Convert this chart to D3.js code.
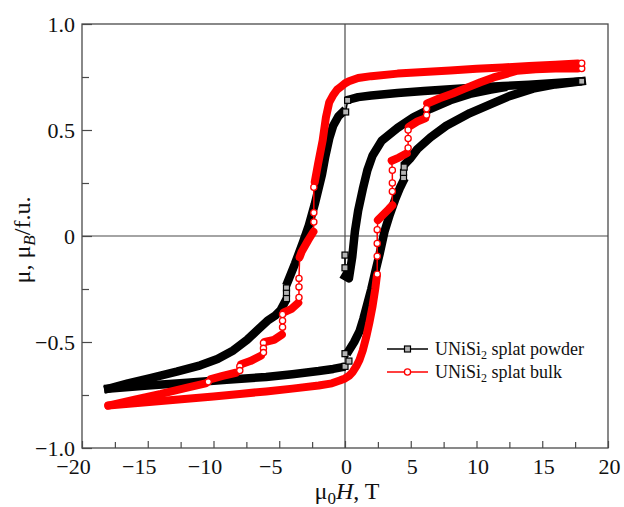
<!DOCTYPE html>
<html>
<head>
<meta charset="utf-8">
<script src="https://cdn.jsdelivr.net/npm/d3@7"></script>
<style>
	body { margin: 0; background: #fff; }
	svg { display: block; font-family: 'Liberation Serif', 'Times New Roman', serif; }
</style>
</head>
<body>
<div id="chart"></div>
<script>

// === Data === //
// [field (T), moment (μB/f.u.)] read off the loops; a third value of 1 marks
// a lone measured point (shown as an open marker, not part of the dense band)

var xTickValues = [-20, -15, -10, -5, 0, 5, 10, 15, 20];
var xTickLabels = ['\u221220', '\u221215', '\u221210', '\u22125', '0', '5', '10', '15', '20'];
var xMinorValues = [-17.5, -12.5, -7.5, -2.5, 2.5, 7.5, 12.5, 17.5];

var yTickValues = [-1, -0.5, 0, 0.5, 1];
var yTickLabels = ['\u22121.0', '\u22120.5', '0', '0.5', '1.0'];
var yMinorValues = [-0.75, -0.25, 0.25, 0.75];

var seriesNames = ['splat powder', 'splat bulk'];

var powderDown = [
	[18, 0.73, 1], [17.7, 0.729], [16, 0.722], [14, 0.714], [12, 0.707], [10, 0.70], [8, 0.692], [6, 0.684],
	[4, 0.675], [2, 0.663], [1, 0.655], [0.4, 0.645],
	[0.2, 0.64, 1], [0.05, 0.585, 1],
	[-0.2, 0.583], [-0.5, 0.565], [-0.9, 0.52], [-1.2, 0.46], [-1.5, 0.375], [-1.75, 0.29], [-2.3, 0.15],
	[-2.75, 0.05], [-3.2, -0.03], [-3.8, -0.13], [-4.35, -0.215],
	[-4.45, -0.245, 1], [-4.45, -0.27, 1], [-4.45, -0.295, 1],
	[-4.6, -0.315], [-4.9, -0.35], [-5.3, -0.375], [-5.9, -0.40], [-6.6, -0.44], [-7.45, -0.49], [-8.5, -0.54],
	[-9.7, -0.58], [-11, -0.61], [-12.8, -0.64], [-14.8, -0.67], [-16.5, -0.695], [-18, -0.72]
];

var powderVirgin = [
	[0, -0.09, 1], [0, -0.15, 1],
	[0.02, -0.19], [0.3, -0.2], [0.55, -0.1], [0.75, 0.02], [1.0, 0.12], [1.35, 0.22], [1.7, 0.31], [2.1, 0.38],
	[2.8, 0.45], [4.0, 0.51], [5.2, 0.56], [6.5, 0.60], [8, 0.64], [9.5, 0.67], [11, 0.69], [12, 0.70]
];

var powderUp = [
	[-18, -0.72], [-15, -0.705], [-12, -0.692], [-9, -0.678], [-6, -0.665], [-4, -0.652], [-2, -0.637],
	[-0.9, -0.627], [-0.3, -0.62],
	[0, -0.615, 1], [0.3, -0.59, 1], [0, -0.555, 1],
	[0.3, -0.54], [0.7, -0.5], [1.1, -0.45], [1.4, -0.39], [1.7, -0.32], [2.0, -0.25], [2.3, -0.17], [2.65, -0.08],
	[3.0, 0.02], [3.4, 0.1], [3.8, 0.17], [4.2, 0.23], [4.4, 0.255],
	[4.45, 0.275, 1], [4.45, 0.3, 1], [4.5, 0.325, 1],
	[4.65, 0.345], [4.95, 0.365], [5.5, 0.41], [6.5, 0.465], [7.7, 0.52], [9.5, 0.58], [11, 0.62], [12.5, 0.66],
	[14.3, 0.695], [16, 0.715], [18, 0.73]
];

var bulkDown = [
	[18, 0.815, 1], [17.7, 0.814], [16, 0.808], [14, 0.802], [12, 0.795], [10, 0.789], [8, 0.781], [6, 0.774],
	[4, 0.766], [2, 0.754], [1, 0.745], [0.3, 0.73], [0, 0.72], [-0.3, 0.705], [-0.6, 0.69], [-0.9, 0.665],
	[-1.2, 0.63], [-1.45, 0.56], [-1.7, 0.45], [-2.05, 0.34], [-2.3, 0.255],
	[-2.37, 0.23, 1], [-2.37, 0.11, 1], [-2.37, 0.066, 1],
	[-2.4, 0.02], [-2.8, -0.02], [-3.3, -0.075], [-3.45, -0.1],
	[-3.5, -0.2, 1], [-3.5, -0.24, 1], [-3.5, -0.29, 1],
	[-3.55, -0.315], [-4.1, -0.345], [-4.65, -0.36],
	[-4.75, -0.37, 1], [-4.75, -0.40, 1], [-4.75, -0.43, 1],
	[-4.8, -0.465], [-5.4, -0.49], [-6.1, -0.5],
	[-6.2, -0.505, 1], [-6.2, -0.53, 1], [-6.2, -0.55, 1],
	[-6.4, -0.565], [-7.2, -0.59], [-7.9, -0.605],
	[-8.0, -0.615, 1], [-8.0, -0.635, 1],
	[-8.3, -0.645], [-9.3, -0.66], [-10.2, -0.675],
	[-10.4, -0.688, 1],
	[-10.6, -0.695], [-12, -0.715], [-14, -0.745], [-16, -0.772], [-18, -0.8]
];

var bulkUp = [
	[-18, -0.8], [-16, -0.789], [-14, -0.778], [-12, -0.768], [-10, -0.757], [-8, -0.745], [-6, -0.733],
	[-4, -0.72], [-2, -0.705], [-1, -0.695], [-0.4, -0.682], [0, -0.672], [0.3, -0.66], [0.6, -0.64],
	[0.9, -0.61], [1.1, -0.585], [1.35, -0.54], [1.6, -0.48], [1.85, -0.41], [2.1, -0.33], [2.3, -0.25], [2.42, -0.19],
	[2.45, -0.18, 1], [2.45, -0.095, 1], [2.45, -0.035, 1], [2.45, 0.03, 1],
	[2.5, 0.075], [2.9, 0.1], [3.3, 0.125], [3.6, 0.145],
	[3.6, 0.21, 1], [3.6, 0.25, 1], [3.6, 0.31, 1],
	[3.55, 0.355], [4.1, 0.37], [4.7, 0.39],
	[4.8, 0.415, 1], [4.8, 0.46, 1], [4.8, 0.5, 1],
	[4.85, 0.515], [5.5, 0.54], [6.1, 0.555],
	[6.2, 0.57, 1], [6.2, 0.6, 1],
	[6.25, 0.625], [7.2, 0.65], [8.2, 0.672], [9.1, 0.695], [10.3, 0.725], [11.3, 0.748], [12.3, 0.765],
	[13.1, 0.78], [14.5, 0.787], [16, 0.79], [17.7, 0.79],
	[18, 0.79, 1]
];


// === Set up svg and scales === //

var width = 624, height = 507;
var plot = { left: 82, right: 608, top: 24, bottom: 448 };

var svg = d3.select('#chart').append('svg')
	.attr('width', width)
	.attr('height', height);

var x = d3.scaleLinear().domain([-20, 20]).range([plot.left, plot.right]);
var y = d3.scaleLinear().domain([-1, 1]).range([plot.bottom, plot.top]);

var frameColour = '#4a4a4a';
var textFont = "'Liberation Serif', 'Times New Roman', serif";

var line = d3.line()
	.x(function(d) { return x(d[0]); })
	.y(function(d) { return y(d[1]); });

var band = d3.line()
	.defined(function(d) { return !d[2]; })
	.x(function(d) { return x(d[0]); })
	.y(function(d) { return y(d[1]); });


// === Axes === //

function drawAxes() {

	// zero lines
	svg.append('line')
		.attr('x1', x(0)).attr('x2', x(0))
		.attr('y1', plot.top).attr('y2', plot.bottom)
		.attr('stroke', frameColour).attr('stroke-width', 1.2);

	svg.append('line')
		.attr('x1', plot.left).attr('x2', plot.right)
		.attr('y1', y(0)).attr('y2', y(0))
		.attr('stroke', frameColour).attr('stroke-width', 1.2);

	var xAxis = d3.axisBottom(x)
		.tickValues(xTickValues)
		.tickSize(-7)
		.tickPadding(10)
		.tickFormat(function(d, i) { return xTickLabels[i]; });

	var xMinor = d3.axisBottom(x).tickValues(xMinorValues).tickSize(-6).tickFormat('');

	var yAxis = d3.axisLeft(y)
		.tickValues(yTickValues)
		.tickSize(-10)
		.tickPadding(7)
		.tickFormat(function(d, i) { return yTickLabels[i]; });

	var yMinor = d3.axisLeft(y).tickValues(yMinorValues).tickSize(-7).tickFormat('');

	var gx = svg.append('g').attr('transform', 'translate(0,' + plot.bottom + ')').call(xAxis);
	svg.append('g').attr('transform', 'translate(0,' + plot.bottom + ')').call(xMinor);
	var gy = svg.append('g').attr('transform', 'translate(' + plot.left + ',0)').call(yAxis);
	svg.append('g').attr('transform', 'translate(' + plot.left + ',0)').call(yMinor);

	svg.selectAll('.domain').remove();
	svg.selectAll('.tick line').attr('stroke', frameColour).attr('stroke-width', 1.2);

	[gx, gy].forEach(function(g) {
		g.attr('font-family', textFont).attr('font-size', 22);
		g.selectAll('text').attr('fill', '#111');
	});

	gx.selectAll('text')
		.attr('dx', function(d) { return d < 0 ? -9 : 1; }); // minus sign hangs to the left

	// frame
	svg.append('rect')
		.attr('x', plot.left).attr('y', plot.top)
		.attr('width', plot.right - plot.left).attr('height', plot.bottom - plot.top)
		.attr('fill', 'none')
		.attr('stroke', frameColour)
		.attr('stroke-width', 1.3);

	// axis titles
	var xt = svg.append('text')
		.attr('x', 347).attr('y', 499)
		.attr('text-anchor', 'middle')
		.attr('font-size', 24)
		.attr('fill', '#111');
	xt.append('tspan').text('\u03bc');
	xt.append('tspan').attr('font-size', 17).attr('dy', 5).text('0');
	xt.append('tspan').attr('font-style', 'italic').attr('dy', -5).text('H');
	xt.append('tspan').text(', T');

	var yt = svg.append('text')
		.attr('transform', 'translate(30,240) rotate(-90)')
		.attr('text-anchor', 'middle')
		.attr('font-size', 24)
		.attr('fill', '#111');
	yt.append('tspan').text('\u03bc, \u03bc');
	yt.append('tspan').attr('font-size', 17).attr('font-style', 'italic').attr('dy', 5).text('B');
	yt.append('tspan').attr('dy', -5).text('/f.u.');

} // drawAxes()


// === Loops === //

var styles = {
	powder: { colour: '#000', band: 8.5, cap: 'square', marker: 'square', fill: '#b4b4b4' },
	bulk: { colour: '#ff0000', band: 8, cap: 'round', marker: 'circle', fill: '#fff' }
};

function drawMarker(g, cx, cy, s) {

	if (s.marker === 'square') {
		g.append('rect')
			.attr('x', cx - 3).attr('y', cy - 3)
			.attr('width', 6).attr('height', 6)
			.attr('fill', s.fill)
			.attr('stroke', s.colour)
			.attr('stroke-width', 1.2);
	} else {
		g.append('circle')
			.attr('cx', cx).attr('cy', cy)
			.attr('r', 3.1)
			.attr('fill', s.fill)
			.attr('stroke', s.colour)
			.attr('stroke-width', 1.3);
	}

} // drawMarker()

function drawBranch(g, pts, s) {

	g.append('path').datum(pts)
		.attr('d', line)
		.attr('fill', 'none')
		.attr('stroke', s.colour)
		.attr('stroke-width', 1.5);

	g.append('path').datum(pts)
		.attr('d', band)
		.attr('fill', 'none')
		.attr('stroke', s.colour)
		.attr('stroke-width', s.band)
		.attr('stroke-linejoin', 'round')
		.attr('stroke-linecap', s.cap);

	pts.filter(function(d) { return d[2]; }).forEach(function(d) {
		drawMarker(g, x(d[0]), y(d[1]), s);
	});

} // drawBranch()

function drawLoops() {

	var gp = svg.append('g').attr('class', 'powder');
	[powderUp, powderVirgin, powderDown].forEach(function(b) { drawBranch(gp, b, styles.powder); });

	var gb = svg.append('g').attr('class', 'bulk');
	[bulkUp, bulkDown].forEach(function(b) { drawBranch(gb, b, styles.bulk); });

} // drawLoops()


// === Legend === //

function drawLegend() {

	var rows = [styles.powder, styles.bulk];

	rows.forEach(function(s, i) {

		var ly = 349 + i * 23;
		var g = svg.append('g');

		g.append('line')
			.attr('x1', 387).attr('x2', 428)
			.attr('y1', ly).attr('y2', ly)
			.attr('stroke', s.colour)
			.attr('stroke-width', 1.5);

		drawMarker(g, 407.5, ly, s);

		var t = g.append('text')
			.attr('x', 435).attr('y', ly + 5.5)
			.attr('font-size', 18)
			.attr('fill', '#111');
		t.append('tspan').text('UNiSi');
		t.append('tspan').attr('font-size', 12).attr('dy', 4).text('2');
		t.append('tspan').attr('dy', -4).text(' ' + seriesNames[i]);

	});

} // drawLegend()


// === Calls === //

drawAxes();
drawLoops();
drawLegend();

</script>
</body>
</html>
